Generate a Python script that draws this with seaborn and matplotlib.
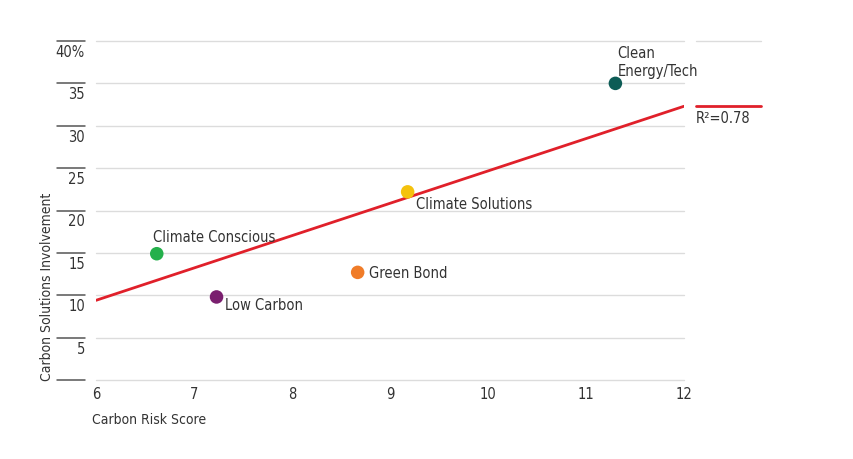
import pandas as pd
import matplotlib
matplotlib.use('Agg')
import matplotlib.pyplot as plt
import matplotlib.transforms as mtransforms
from matplotlib import font_manager
import seaborn as sns

# data
fund_names = ["Climate Conscious", "Low Carbon", "Green Bond", "Climate Solutions", "Clean Energy/Tech"]
risk_score = [6.62, 7.23, 8.67, 9.18, 11.30]
solutions_pct = [14.9, 9.8, 12.7, 22.2, 35.0]
point_colors = ["#24b04b", "#7a1f6f", "#f07c28", "#f4c20d", "#0d5c56"]
point_labels = ["Climate Conscious", "Low Carbon", "Green Bond", "Climate Solutions", "Clean\nEnergy/Tech"]

trend_x = [6, 12]
trend_y = [9.4, 32.3]
r_squared = 0.78

x_ticks = [6, 7, 8, 9, 10, 11, 12]
y_ticks = [0, 5, 10, 15, 20, 25, 30, 35, 40]
y_tick_labels = ["", "5", "10", "15", "20", "25", "30", "35", "40%"]

sns.set_style("white")

# the original uses a condensed face; take one if the box has it
narrow = [f for f in font_manager.fontManager.ttflist
          if f.stretch in ("condensed", "semi-condensed", "extra-condensed", 600, 700, 500)
          or "Narrow" in f.name or "Condensed" in f.name]
if narrow:
    base_font = narrow[0].name
    plt.rcParams['font.stretch'] = 'condensed'
else:
    base_font = 'Roboto'
plt.rcParams['font.family'] = [base_font, 'DejaVu Sans']

text_color = "#333333"
grid_color = "#dcdcdc"
red = "#e0202a"
fs = 10

df = pd.DataFrame({"fund": fund_names, "risk": risk_score, "pct": solutions_pct})
trend = pd.DataFrame({"x": trend_x, "y": trend_y})

fig = plt.figure(figsize=(8.54, 4.6), dpi=100)
ax = fig.add_axes([96 / 854, 1 - 381 / 460, 588 / 854, 339 / 460])

ax.set_xlim(6, 12)
ax.set_ylim(0, 40)
ax.set_yticks(y_ticks)
ax.set_yticklabels(y_tick_labels)
ax.set_xticks(x_ticks)
ax.set_xticklabels([str(v) for v in x_ticks])
ax.grid(axis="y", color=grid_color, lw=1.0)
ax.set_axisbelow(True)
sns.despine(ax=ax, left=True, bottom=True)
ax.tick_params(axis="both", length=0, labelsize=fs + 0.5, labelcolor=text_color)
ax.tick_params(axis="x", pad=4)
ax.tick_params(axis="y", pad=8)
for gl in ax.get_ygridlines():
    gl.set_clip_on(False)

# y labels sit just under their tick line
shift = mtransforms.ScaledTranslation(0, -3 / 100, fig.dpi_scale_trans)
for lab in ax.get_yticklabels():
    lab.set_va("top")
    lab.set_transform(lab.get_transform() + shift)

# short tick bars left of the labels
blend = mtransforms.blended_transform_factory(ax.transAxes, ax.transData)
for yv in y_ticks:
    ax.plot([-0.0664, -0.0187], [yv, yv], transform=blend, clip_on=False,
            color="#555555", lw=1.1)

# trend line
sns.lineplot(data=trend, x="x", y="y", ax=ax, color=red, lw=2, zorder=2)

sns.scatterplot(data=df, x="risk", y="pct", hue="fund", palette=dict(zip(fund_names, point_colors)),
                s=95, edgecolor="none", legend=False, ax=ax, zorder=3)

offsets = [(-4, 17), (8, -8), (11, 0), (8, -12), (2, 22)]
for x, y, lab, (dx, dy) in zip(risk_score, solutions_pct, point_labels, offsets):
    ax.annotate(lab, (x, y), xytext=(dx, dy), textcoords="offset pixels",
                ha="left", va="center", fontsize=fs + 0.5, color=text_color, linespacing=1.25)

# side key for the fit
ax.plot([1.0204, 1.131], [40, 40], transform=blend, clip_on=False, color=grid_color, lw=1.0)
ax.plot([1.0204, 1.131], [trend_y[-1], trend_y[-1]], transform=blend, clip_on=False, color=red, lw=2)
ax.annotate(f"R\u00b2={r_squared:.2f}", (1.0204, trend_y[-1]),
            xycoords=blend, xytext=(0, -4), textcoords="offset pixels",
            ha="left", va="top", fontsize=fs + 0.5, color=text_color)

ax.set_xlabel("")
ax.set_ylabel("")
ax.text(-0.0835, 0, "Carbon Solutions Involvement", transform=ax.transAxes, rotation=90,
        ha="center", va="bottom", fontsize=fs, color=text_color)
ax.text(-0.007, -0.094, "Carbon Risk Score", transform=ax.transAxes,
        ha="left", va="top", fontsize=fs, color=text_color)

fig.savefig("out.png", dpi=100)
plt.close(fig)
